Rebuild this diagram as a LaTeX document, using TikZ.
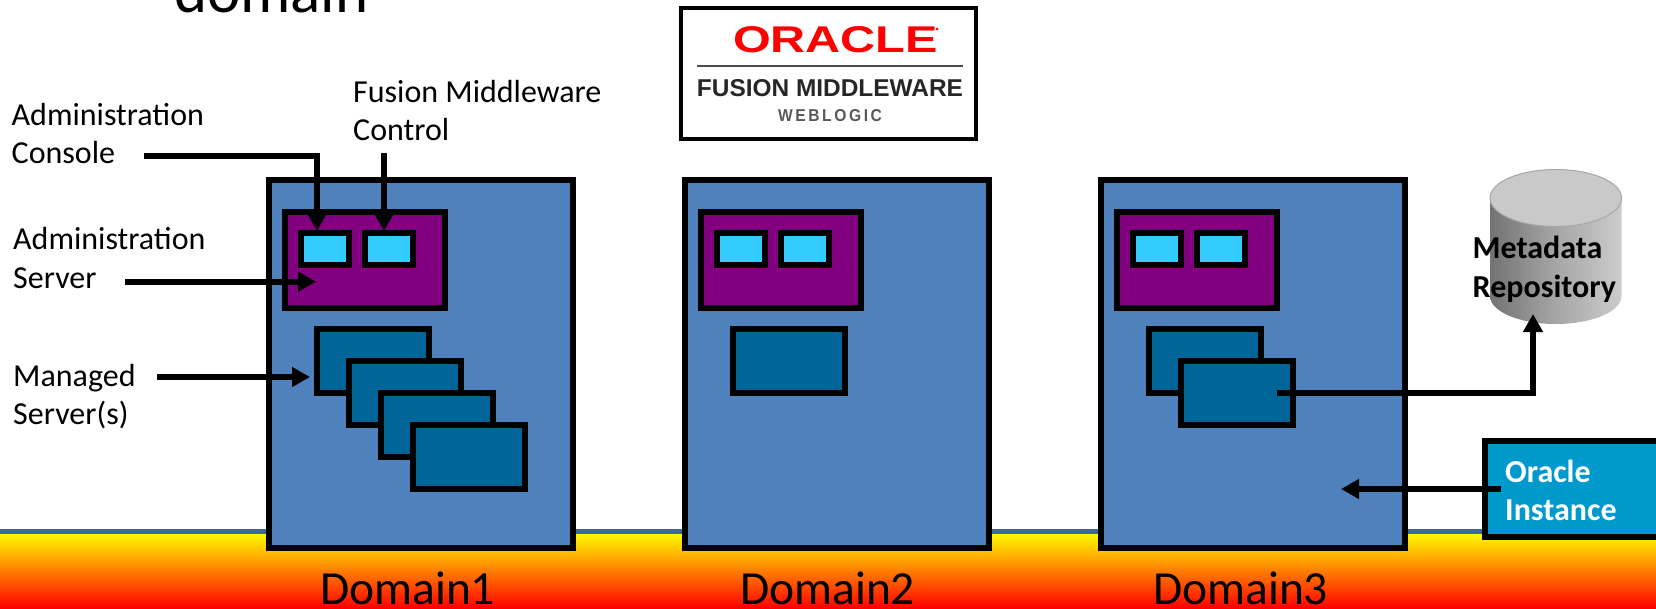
\documentclass[tikz,border=0pt]{standalone}
\usepackage{fontspec}
\setmainfont{Carlito}
\newfontfamily\logofont{Liberation Sans}
\usetikzlibrary{arrows.meta}
\definecolor{domblue}{HTML}{4F81BD}
\definecolor{adminpurple}{HTML}{800080}
\definecolor{cyanbox}{HTML}{33CCFF}
\definecolor{managedblue}{HTML}{006699}
\definecolor{instblue}{HTML}{0099CC}
\definecolor{bandline}{HTML}{3F689A}
\tikzset{
  x=1pt,y=-1pt,
  box/.style={draw=black,line width=6pt,inner sep=0pt,outer sep=0pt,rectangle,miter limit=10},
  domainbox/.style={box,fill=domblue,minimum width=304.5pt,minimum height=368.3pt},
  adminbox/.style={box,fill=adminpurple,minimum width=160.5pt,minimum height=96.5pt},
  consolebox/.style={box,fill=cyanbox,minimum width=48.5pt,minimum height=32.5pt},
  managedbox/.style={box,fill=managedblue,minimum width=112.5pt,minimum height=64.5pt},
  lab/.style={anchor=base west,inner sep=0pt,text depth=0pt,font=\fontsize{32}{38}\selectfont},
  domlab/.style={anchor=base west,inner sep=0pt,text depth=0pt,font=\fontsize{47.5}{50}\selectfont},
  boldlab/.style={anchor=base west,inner sep=0pt,text depth=0pt,font=\fontsize{32}{38}\selectfont\bfseries},
  conn/.style={line width=5.7pt,draw=black,-{Triangle[length=18pt,width=19pt]},line join=miter},
}
\begin{document}
\begin{tikzpicture}
\useasboundingbox (0,0) rectangle (1656,608);
\clip (0,0) rectangle (1656,608);
\fill[white] (0,0) rectangle (1656,608);
% title fragment
\node[anchor=base west,inner sep=0pt,text depth=0pt,font=\fontsize{63}{70}\selectfont] (title) at (174,12) {domain};
% band
\fill[top color=yellow!95!orange,middle color=orange!85!yellow,bottom color=red] (0,534) rectangle (1656,608);
\fill[bandline] (0,529) rectangle (1656,534);
% logo
\node[draw=black,line width=3.5pt,fill=white,minimum width=295pt,minimum height=131pt,inner sep=0pt] (logo) at (828.5,73.5) {};
\node[inner sep=0pt,text=red] (oraclelogo) at (835.5,40) {\resizebox{205pt}{26pt}{\logofont\bfseries ORACLE}};
\node[circle,fill=red,inner sep=0pt,minimum size=3pt] (oracledot) at (937,29) {};
\draw[line width=1.2pt,draw=black!70] (697,66) -- (963,66);
\node[inner sep=0pt,text=black!85] (fmw) at (830,88.5) {\resizebox{266pt}{17pt}{\logofont\bfseries FUSION MIDDLEWARE}};
\node[inner sep=0pt,text=black!65] (wl) at (830,116) {\resizebox{104pt}{12pt}{\logofont\bfseries W\,E\,B\,L\,O\,G\,I\,C}};
% domains
\node[domainbox] (d1) at (421,364.2) {};
\node[domainbox] (d2) at (837,364.2) {};
\node[domainbox] (d3) at (1253,364.2) {};
% admin servers
\node[adminbox] (a1) at (365,260) {};
\node[adminbox] (a2) at (781,260) {};
\node[adminbox] (a3) at (1197,260) {};
\node[consolebox] (c11) at (325,249) {};
\node[consolebox] (c12) at (389,249) {};
\node[consolebox] (c21) at (741,249) {};
\node[consolebox] (c22) at (805,249) {};
\node[consolebox] (c31) at (1157,249) {};
\node[consolebox] (c32) at (1221,249) {};
% managed servers
\node[managedbox] (m11) at (373,361) {};
\node[managedbox] (m12) at (405,393) {};
\node[managedbox] (m13) at (437,425) {};
\node[managedbox] (m14) at (469,457) {};
\node[managedbox] (m21) at (789,361) {};
\node[managedbox] (m31) at (1205,361) {};
\node[managedbox] (m32) at (1237,393) {};
% repository cylinder
\shade[left color=black!55,right color=black!20,middle color=black!35]
  (1490,198) -- (1490,296) arc[start angle=180,end angle=360,x radius=65.75pt,y radius=28pt]
  -- (1621.5,198) arc[start angle=360,end angle=180,x radius=65.75pt,y radius=28.5pt] -- cycle;
\draw[fill=black!21,draw=black!35,line width=1pt] (1555.75,198) ellipse[x radius=65.75pt,y radius=28.5pt];
% oracle instance
\node[box,fill=instblue,minimum width=200pt,minimum height=96.5pt,anchor=west] (inst) at (1484.75,489) {};
% labels
\node[lab] (l1a) at (11.5,125) {Administration};
\node[lab] (l1b) at (11.5,163) {Console};
\node[lab] (l2a) at (353,102) {Fusion Middleware};
\node[lab] (l2b) at (353,140) {Control};
\node[lab] (l3a) at (13,249) {Administration};
\node[lab] (l3b) at (13,288) {Server};
\node[lab] (l4a) at (13,386) {Managed};
\node[lab] (l4b) at (13,424) {Server(s)};
\node[boldlab] (r1) at (1472.5,258) {Metadata};
\node[boldlab] (r2) at (1472.5,297) {Repository};
\node[boldlab,text=white] (i1) at (1505,482) {Oracle};
\node[boldlab,text=white] (i2) at (1505,520) {Instance};
\node[domlab] (n1) at (320,604) {Domain1};
\node[domlab] (n2) at (740,604) {Domain2};
\node[domlab] (n3) at (1153,604) {Domain3};
% connector ends
\coordinate (consoleS) at (144,155.7);
\coordinate (consoleE) at (317,231);
\coordinate (fmwS) at (384,153);
\coordinate (fmwE) at (384,231);
\coordinate (adminS) at (125,281.7);
\coordinate (adminE) at (316,281.7);
\coordinate (manS) at (157,377);
\coordinate (manE) at (310,377);
\coordinate (metaS) at (1277,393);
\coordinate (metaE) at (1533,314);
\coordinate (instS) at (1501,489);
\coordinate (instE) at (1341,489);
% connectors
\draw[conn] (consoleS) -| (consoleE);
\draw[conn] (fmwS) -- (fmwE);
\draw[conn] (adminS) -- (adminE);
\draw[conn] (manS) -- (manE);
\draw[conn] (metaS) -| (metaE);
\draw[conn] (instS) -- (instE);
\end{tikzpicture}
\end{document}
